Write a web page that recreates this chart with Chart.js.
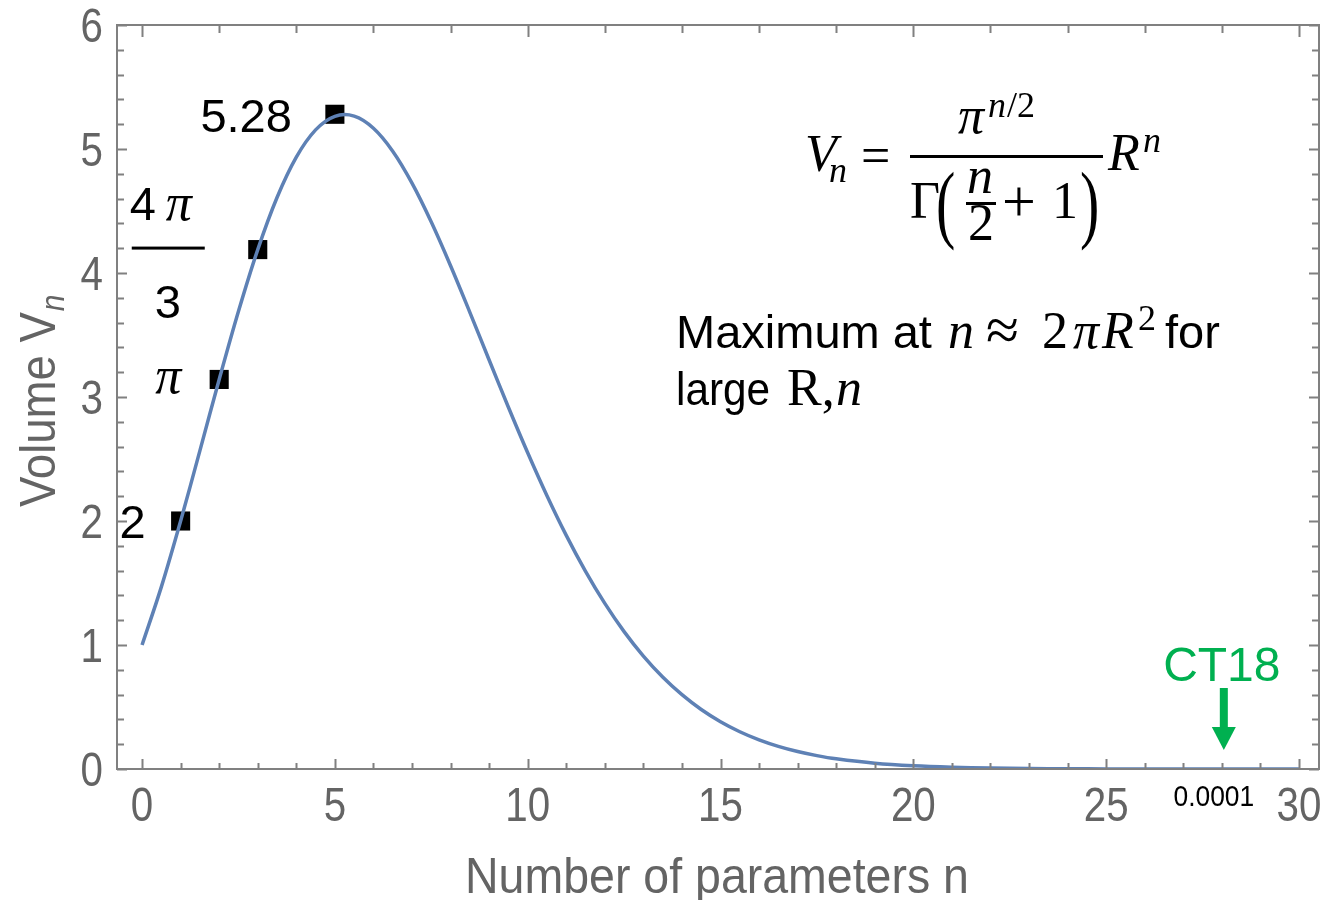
<!DOCTYPE html>
<html>
<head>
<meta charset="utf-8">
<title>Volume of the unit n-ball</title>
<script src="https://cdn.jsdelivr.net/npm/chart.js@4.4.0/dist/chart.umd.min.js"></script>
<style>
  html, body { margin: 0; padding: 0; background: #fff; }
  #wrap { width: 1324px; height: 900px; }
</style>
</head>
<body>
<div id="wrap"><canvas id="ball" width="1324" height="900"></canvas></div>
<script>
// volume of the unit ball V_n against dimension n
var curveN = [0, 0.5, 1, 1.5, 2, 2.5, 3, 3.5, 4, 4.5, 5, 5.5, 6, 6.5, 7, 7.5, 8, 8.5, 9, 9.5,
              10, 10.5, 11, 11.5, 12, 12.5, 13, 13.5, 14, 14.5, 15, 15.5, 16, 16.5, 17, 17.5,
              18, 19, 20, 21, 22, 23, 24, 25, 26, 27, 28, 29, 30];
var curveV = [1, 1.4688, 2, 2.5674, 3.1416, 3.6916, 4.1888, 4.6090, 4.9348, 5.1544, 5.2638, 5.2652,
              5.1677, 4.9825, 4.7248, 4.4110, 4.0587, 3.6830, 3.2985, 2.9173,
              2.5502, 2.2039, 1.8841, 1.5940, 1.3353, 1.1078, 0.9106, 0.7419, 0.5993, 0.4800,
              0.3814, 0.3007, 0.2353, 0.1828, 0.1410, 0.1080,
              0.0822, 0.0466, 0.0258, 0.0140, 0.0074, 0.0038, 0.0019, 0.0010, 0.0005, 0.0002,
              0.0001, 0.00005, 0.00002];

// labelled points
var markN = [1, 2, 3, 5];
var markV = [2, 3.1416, 4.1888, 5.28];

var xTicks = [0, 5, 10, 15, 20, 25, 30];
var yTicks = [0, 1, 2, 3, 4, 5, 6];

var ct18N = 28;
var ct18Text = 'CT18';
var ct18Value = '0.0001';

var GRAY = '#646464';
var FRAME = '#808080';
var SANS = '"Liberation Sans", Arial, sans-serif';
var SERIF = '"Liberation Serif", "DejaVu Serif", serif';

function put(ctx, s, x, y, font, color, align) {
  ctx.font = font;
  ctx.fillStyle = color || '#000';
  ctx.textAlign = align || 'left';
  ctx.textBaseline = 'alphabetic';
  ctx.fillText(s, x, y);
  return x + ctx.measureText(s).width;
}

// text squeezed horizontally around (x, y)
function squeezed(ctx, s, x, y, font, color, align, sx) {
  ctx.save();
  ctx.translate(x, y);
  ctx.scale(sx, 1);
  put(ctx, s, 0, 0, font, color, align);
  ctx.restore();
}

// frame with inside ticks on all four sides, plus the tick numbers
var framePlugin = {
  id: 'frame',
  afterDatasetsDraw: function(chart) {
    var ctx = chart.ctx, a = chart.chartArea;
    var xs = chart.scales.x, ys = chart.scales.y;
    ctx.save();
    ctx.strokeStyle = FRAME;
    ctx.lineWidth = 2;
    ctx.strokeRect(a.left, a.top, a.right - a.left, a.bottom - a.top);
    ctx.beginPath();
    for (var n = 0; n <= 30; n++) {
      var px = Math.round(xs.getPixelForValue(n)) + 0.5;
      var len = n % 5 === 0 ? 10 : 6;
      ctx.moveTo(px, a.bottom); ctx.lineTo(px, a.bottom - len);
      if (n % 2 === 0) {
        var tl = n % 10 === 0 ? 12 : 8;
        ctx.moveTo(px, a.top); ctx.lineTo(px, a.top + tl);
      }
    }
    for (var k = 0; k <= 30; k++) {
      var py = Math.round(ys.getPixelForValue(k / 5)) + 0.5;
      var l2 = k % 5 === 0 ? 10 : 7;
      ctx.moveTo(a.left, py); ctx.lineTo(a.left + l2, py);
      ctx.moveTo(a.right, py); ctx.lineTo(a.right - l2, py);
    }
    ctx.stroke();

    xs.ticks.forEach(function(t) {
      squeezed(ctx, String(t.value), xs.getPixelForValue(t.value), a.bottom + 52, '48px ' + SANS, GRAY, 'center', 0.84);
    });
    ys.ticks.forEach(function(t) {
      squeezed(ctx, String(t.value), a.left - 14, ys.getPixelForValue(t.value) + 17, '48px ' + SANS, GRAY, 'right', 0.84);
    });
    ctx.restore();
  }
};

// axis titles, point labels, formula and the CT18 arrow
var notesPlugin = {
  id: 'notes',
  afterDraw: function(chart) {
    var ctx = chart.ctx, a = chart.chartArea;
    var xs = chart.scales.x, ys = chart.scales.y;
    ctx.save();

    // axis titles
    squeezed(ctx, 'Number of parameters n', 717, 893, '50px ' + SANS, GRAY, 'center', 0.93);
    ctx.save();
    ctx.translate(55, 507);
    ctx.rotate(-Math.PI / 2);
    ctx.scale(0.91, 1);
    var e = put(ctx, 'Volume V', 0, 0, '50px ' + SANS, GRAY, 'left');
    put(ctx, 'n', e + 1, 9, 'italic 33px ' + SANS, GRAY, 'left');
    ctx.restore();

    // labels beside the marked points
    var lab = '47px ' + SANS;
    var p1x = xs.getPixelForValue(markN[0]), p1y = ys.getPixelForValue(markV[0]);
    put(ctx, '2', p1x - 35, p1y + 17, lab, '#000', 'right');
    var p2x = xs.getPixelForValue(markN[1]), p2y = ys.getPixelForValue(markV[1]);
    put(ctx, 'π', p2x - 38, p2y + 14, 'italic 52px ' + SERIF, '#000', 'right');
    var p3x = xs.getPixelForValue(markN[2]), p3y = ys.getPixelForValue(markV[2]);
    ctx.fillStyle = '#000';
    ctx.fillRect(p3x - 126, p3y - 3, 73, 3);
    put(ctx, '4', p3x - 128, p3y - 30, lab, '#000', 'left');
    put(ctx, 'π', p3x - 92, p3y - 30, 'italic 52px ' + SERIF, '#000', 'left');
    put(ctx, '3', p3x - 103, p3y + 68, lab, '#000', 'left');
    var p5x = xs.getPixelForValue(markN[3]), p5y = ys.getPixelForValue(markV[3]);
    put(ctx, '5.28', p5x - 43, p5y + 18, lab, '#000', 'right');

    // V_n = pi^(n/2) / Gamma(n/2 + 1) R^n
    var it = 'italic 52px ' + SERIF, up = '52px ' + SERIF;
    var itS = 'italic 36px ' + SERIF, upS = '36px ' + SERIF;
    put(ctx, 'V', 805, 171, it);
    put(ctx, 'n', 829, 182, itS);
    put(ctx, '=', 861, 173, up);
    ctx.fillRect(910, 155, 193, 3);
    put(ctx, 'π', 958, 133, it);
    var q = put(ctx, 'n', 988, 117, itS);
    put(ctx, '/2', q + 1, 117, upS);
    put(ctx, 'Γ', 910, 218, up);
    ctx.save();
    ctx.translate(936, 232);
    ctx.scale(1, 1.5);
    put(ctx, '(', 0, 0, '58px ' + SERIF);
    ctx.restore();
    put(ctx, 'n', 967, 193, it);
    ctx.fillRect(966, 202, 30, 3);
    put(ctx, '2', 968, 240, up);
    put(ctx, '+', 1002, 221, '60px ' + SERIF);
    put(ctx, '1', 1052, 218, up);
    ctx.save();
    ctx.translate(1080, 232);
    ctx.scale(1, 1.5);
    put(ctx, ')', 0, 0, '58px ' + SERIF);
    ctx.restore();
    put(ctx, 'R', 1108, 170, it);
    put(ctx, 'n', 1143, 152, itS);

    // maximum note
    var t = '47px ' + SANS;
    put(ctx, 'Maximum at', 676, 348, t);
    put(ctx, 'n', 948, 348, it);
    put(ctx, '≈', 986, 350, '60px ' + SERIF);
    put(ctx, '2', 1042, 348, up);
    put(ctx, 'π', 1073, 348, it);
    put(ctx, 'R', 1102, 348, it);
    put(ctx, '2', 1138, 330, upS);
    put(ctx, 'for', 1165, 348, t);
    squeezed(ctx, 'large', 676, 405, t, '#000', 'left', 0.9);
    put(ctx, 'R,', 787, 405, up);
    put(ctx, 'n', 836, 405, it);

    // CT18 arrow
    var cx = xs.getPixelForValue(ct18N);
    put(ctx, ct18Text, cx, 681, '48px ' + SANS, '#00B050', 'center');
    ctx.fillStyle = '#00B050';
    ctx.fillRect(cx - 2, 688, 8, 40);
    ctx.beginPath();
    ctx.moveTo(cx - 10, 727); ctx.lineTo(cx + 14, 727); ctx.lineTo(cx + 2, 750);
    ctx.closePath(); ctx.fill();
    squeezed(ctx, ct18Value, cx - 8, 806, '30px ' + SANS, '#000', 'center', 0.88);

    ctx.restore();
  }
};

new Chart(document.getElementById('ball'), {
  type: 'scatter',
  data: {
    datasets: [{
      data: curveN.map(function(n, i) { return { x: n, y: curveV[i] }; }),
      showLine: true,
      borderColor: '#5E81B5',
      borderWidth: 3.5,
      pointRadius: 0,
      tension: 0.35,
      order: 0
    }, {
      data: markN.map(function(n, i) { return { x: n, y: markV[i] }; }),
      pointStyle: 'rect',
      pointRadius: 13.5,
      backgroundColor: '#000',
      borderWidth: 0,
      order: 1
    }]
  },
  options: {
    responsive: false,
    animation: false,
    layout: { autoPadding: false, padding: { top: 25, right: 5, left: 0, bottom: 0 } },
    plugins: { legend: { display: false }, tooltip: { enabled: false } },
    scales: {
      x: {
        type: 'linear', min: -0.65, max: 30.52,
        grid: { display: false, drawTicks: false },
        border: { display: false },
        afterBuildTicks: function(s) { s.ticks = xTicks.map(function(v) { return { value: v }; }); },
        afterFit: function(s) { s.height = 131; s.paddingLeft = 0; s.paddingRight = 0; },
        ticks: { display: false }
      },
      y: {
        type: 'linear', min: 0, max: 6,
        grid: { display: false, drawTicks: false },
        border: { display: false },
        afterBuildTicks: function(s) { s.ticks = yTicks.map(function(v) { return { value: v }; }); },
        afterFit: function(s) { s.width = 117; s.paddingTop = 0; s.paddingBottom = 0; },
        ticks: { display: false }
      }
    }
  },
  plugins: [framePlugin, notesPlugin]
});
</script>
</body>
</html>
